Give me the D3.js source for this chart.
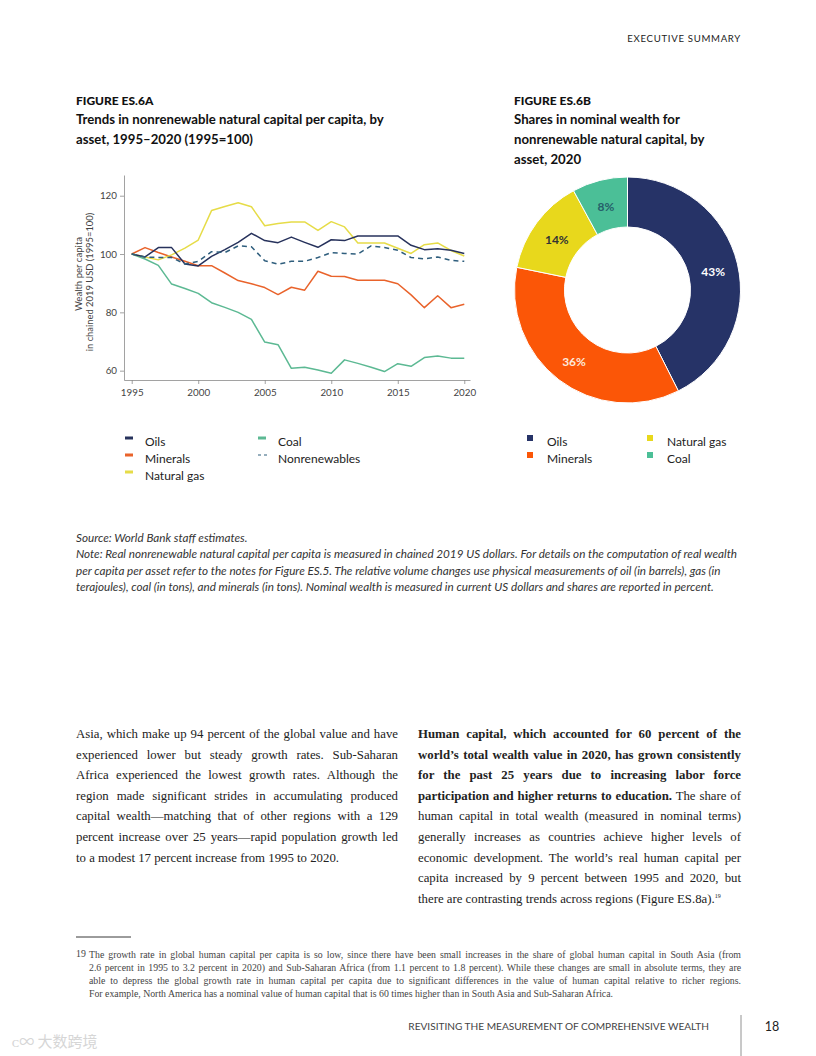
<!DOCTYPE html>
<html><head><meta charset="utf-8">
<script src="https://cdn.jsdelivr.net/npm/d3@7"></script>
<style>
html,body{margin:0;padding:0;background:#fff;}
body{width:816px;height:1056px;position:relative;overflow:hidden;font-family:Lato,"Open Sans",sans-serif;}
.abs{position:absolute;}
.body-line{white-space:nowrap;text-align:justify;text-align-last:justify;font-family:"Liberation Serif",serif;font-size:12.8px;color:#222;height:20.6px;line-height:20.6px;}
.body-line.last{text-align-last:left;}
.fn-line{white-space:nowrap;text-align:justify;text-align-last:justify;font-family:"Liberation Serif",serif;font-size:9.8px;color:#444;height:13px;line-height:13px;}
.fn-line.last{text-align-last:left;}
sup{line-height:0;vertical-align:0;position:relative;top:-5px;}
</style></head>
<body>
<svg id="chart" width="816" height="1056" class="abs" style="left:0;top:0"></svg>
<div id="text"></div>
<script>
// ---------- DATA ----------
const years = d3.range(1995, 2021);
const oils =          [100, 99.0, 102.2, 102.2, 96.6, 95.9, 99.2, 101.5, 104.0, 107.1, 104.6, 103.9, 105.8, 104.0, 102.3, 104.9, 104.6, 106.2, 106.2, 106.2, 106.2, 103.0, 101.5, 101.8, 101.3, 100.2];
const minerals =      [100, 102.2, 100.5, 99.0, 97.5, 96.0, 96.0, 93.5, 90.9, 89.8, 88.5, 86.1, 88.6, 87.6, 94.1, 92.4, 92.3, 91.0, 91.0, 91.0, 89.8, 86.0, 81.6, 85.7, 81.6, 82.8];
const naturalGas =    [100, 99.0, 98.0, 99.7, 102.0, 104.8, 114.9, 116.3, 117.6, 116.2, 109.7, 110.5, 111.0, 111.0, 108.1, 111.1, 109.3, 103.8, 103.8, 103.8, 102.0, 100.2, 103.2, 103.8, 101.2, 99.3];
const coal =          [100, 98.3, 96.1, 89.7, 88.2, 86.5, 83.3, 81.7, 80.0, 77.6, 69.8, 68.9, 60.8, 61.2, 60.2, 59.1, 63.7, 62.5, 61.2, 59.7, 62.4, 61.5, 64.5, 65.0, 64.3, 64.3];
const nonrenewables = [100, 99.0, 98.8, 98.8, 96.6, 97.5, 100.8, 100.5, 102.8, 102.5, 97.7, 96.5, 97.5, 97.5, 98.8, 100.5, 100.2, 100.0, 102.8, 102.2, 101.3, 98.8, 98.3, 99.0, 97.8, 97.5];
const yTicks = [60, 80, 100, 120];
const xTicks = [1995, 2000, 2005, 2010, 2015, 2020];

const donutLabels = ["Oils", "Minerals", "Natural gas", "Coal"];
const donutShares = [43, 36, 14, 8];

// ---------- STYLES ----------
const lineSeries = [
  {name:"Oils", values:oils, color:"#27325c", dash:null},
  {name:"Minerals", values:minerals, color:"#e9632b", dash:null},
  {name:"Natural gas", values:naturalGas, color:"#e6dc48", dash:null},
  {name:"Coal", values:coal, color:"#5cb993", dash:null},
  {name:"Nonrenewables", values:nonrenewables, color:"#2f5e7d", dash:"5,4"}
];
const donutColors = ["#263367", "#fb5607", "#e8d81c", "#4bbf97"];
const donutLabelColors = ["#ffffff", "#fde9dc", "#333333", "#26606a"];

const svg = d3.select("#chart");

// header
svg.append("text").attr("x",741).attr("y",42).attr("text-anchor","end")
  .attr("font-size",9.6).attr("letter-spacing",0.7).attr("fill","#222").text("EXECUTIVE SUMMARY");

// titles
function title(x, lines){
  svg.append("text").attr("x",x).attr("y",105).attr("font-weight",900).attr("font-size",12).attr("fill","#111").text(lines[0]);
  lines.slice(1).forEach((t,i)=>{
    svg.append("text").attr("x",x).attr("y",124+i*20).attr("font-weight",700).attr("font-size",13.2).attr("fill","#111").text(t);
  });
}
title(76, ["FIGURE ES.6A","Trends in nonrenewable natural capital per capita, by","asset, 1995–2020 (1995=100)"]);
title(514, ["FIGURE ES.6B","Shares in nominal wealth for","nonrenewable natural capital, by","asset, 2020"]);

// ---------- LINE CHART ----------
const x = d3.scaleLinear().domain([1994.42, 2020.43]).range([124, 470]);
const y = d3.scaleLinear().domain([56.8, 127.1]).range([380, 175]);

const gx = svg.append("g").attr("transform","translate(0,380)")
  .call(d3.axisBottom(x).tickValues(xTicks).tickFormat(d3.format("d")).tickSize(4).tickSizeOuter(0));
const gy = svg.append("g").attr("transform","translate(124,0)")
  .call(d3.axisLeft(y).tickValues(yTicks).tickSize(4).tickSizeOuter(0));
[gx,gy].forEach(g=>{
  g.select(".domain").attr("stroke","#8a8a8a").attr("stroke-width",0.8);
  g.selectAll(".tick line").attr("stroke","#8a8a8a").attr("stroke-width",0.8);
  g.selectAll(".tick text").attr("fill","#444").attr("font-size",9.8).attr("font-family","Lato");
});
gx.selectAll(".tick text").attr("dy","0.9em");

svg.append("text").attr("transform","translate(82,274) rotate(-90)").attr("text-anchor","middle")
  .attr("font-size",9.6).attr("fill","#444").text("Wealth per capita");
svg.append("text").attr("transform","translate(93,282) rotate(-90)").attr("text-anchor","middle")
  .attr("font-size",9.4).attr("fill","#444").text("in chained 2019 USD (1995=100)");

const line = d3.line().x((d,i)=>x(years[i])).y(d=>y(d));
const drawOrder = [3,1,2,0,4];
drawOrder.forEach(k=>{
  const s = lineSeries[k];
  svg.append("path").datum(s.values).attr("d",line).attr("fill","none")
    .attr("stroke",s.color).attr("stroke-width",1.5).attr("stroke-linejoin","round")
    .attr("stroke-dasharray",s.dash);
});

// line legend
const legPos = [[125,442],[125,459],[125,476],[258,442],[258,459]];
lineSeries.forEach((s,i)=>{
  const p = legPos[i];
  if(s.dash){
    svg.append("line").attr("x1",p[0]).attr("x2",p[0]+9).attr("y1",p[1]-4).attr("y2",p[1]-4)
      .attr("stroke",s.color).attr("stroke-width",1.2).attr("stroke-dasharray","3,3");
  } else {
    svg.append("rect").attr("x",p[0]).attr("y",p[1]-5.5).attr("width",8).attr("height",3).attr("fill",s.color);
  }
  svg.append("text").attr("x",p[0]+20).attr("y",p[1]+4).attr("font-size",12).attr("fill","#222").text(s.name);
});

// ---------- DONUT ----------
const cx = 627.5, cy = 290, rOut = 113, rIn = 63;
const pie = d3.pie().sort(null).value(d=>d);
const arc = d3.arc().innerRadius(rIn).outerRadius(rOut);
const arcs = pie(donutShares);
const dg = svg.append("g").attr("transform",`translate(${cx},${cy})`);
dg.selectAll("path").data(arcs).join("path").attr("d",arc)
  .attr("fill",(d,i)=>donutColors[i]).attr("stroke","#fff").attr("stroke-width",1);
dg.selectAll("text").data(arcs).join("text")
  .attr("transform",d=>{const c=arc.centroid(d);return `translate(${c[0]},${c[1]+2})`;})
  .attr("text-anchor","middle").attr("dy","0.35em").attr("font-size",12).attr("font-weight",700)
  .attr("fill",(d,i)=>donutLabelColors[i]).text(d=>d.data+"%");

// donut legend
const dLegPos = [[527,442],[527,459],[647,442],[647,459]];
donutLabels.forEach((t,i)=>{
  const p = dLegPos[i];
  svg.append("rect").attr("x",p[0]).attr("y",p[1]-7).attr("width",6).attr("height",6).attr("fill",donutColors[i]);
  svg.append("text").attr("x",p[0]+20).attr("y",p[1]+4).attr("font-size",12).attr("fill","#222").text(t);
});

// source & notes
const noteLines = [
  "Source: World Bank staff estimates.",
  "Note: Real nonrenewable natural capital per capita is measured in chained 2019 US dollars. For details on the computation of real wealth",
  "per capita per asset refer to the notes for Figure ES.5. The relative volume changes use physical measurements of oil (in barrels), gas (in",
  "terajoules), coal (in tons), and minerals (in tons). Nominal wealth is measured in current US dollars and shares are reported in percent."
];
noteLines.forEach((t,i)=>{
  svg.append("text").attr("x",76).attr("y",542+i*16.4).attr("font-size",11.7).attr("font-style","italic")
    .attr("fill","#333").text(t);
});

// footnote rule
svg.append("line").attr("x1",76).attr("x2",131).attr("y1",937).attr("y2",937).attr("stroke","#222").attr("stroke-width",0.9);

// footer
svg.append("text").attr("x",709).attr("y",1030).attr("text-anchor","end").attr("font-size",10.1)
  .attr("fill","#444").text("REVISITING THE MEASUREMENT OF COMPREHENSIVE WEALTH");
svg.append("line").attr("x1",741).attr("x2",741).attr("y1",1015).attr("y2",1056).attr("stroke","#777").attr("stroke-width",0.8);
svg.append("text").attr("x",772).attr("y",1031).attr("text-anchor","middle").attr("font-size",12.5)
  .attr("fill","#222").text("18");
svg.append("text").attr("x",12).attr("y",1047).attr("font-size",15).attr("fill","#d6d6d6")
  .attr("font-family","Noto Sans CJK SC").text("ᴄ∞ 大数跨境");

// ---------- BODY TEXT ----------
const leftCol = [
  "Asia, which make up 94 percent of the global value and have",
  "experienced lower but steady growth rates. Sub-Saharan",
  "Africa experienced the lowest growth rates. Although the",
  "region made significant strides in accumulating produced",
  "capital wealth—matching that of other regions with a 129",
  "percent increase over 25 years—rapid population growth led",
  "to a modest 17 percent increase from 1995 to 2020."
];
const rightCol = [
  "<b>Human capital, which accounted for 60 percent of the</b>",
  "<b>world’s total wealth value in 2020, has grown consistently</b>",
  "<b>for the past 25 years due to increasing labor force</b>",
  "<b>participation and higher returns to education.</b> The share of",
  "human capital in total wealth (measured in nominal terms)",
  "generally increases as countries achieve higher levels of",
  "economic development. The world’s real human capital per",
  "capita increased by 9 percent between 1995 and 2020, but",
  "there are contrasting trends across regions (Figure ES.8a).<sup style='font-size:6px'>19</sup>"
];
const footnote = [
  "The growth rate in global human capital per capita is so low, since there have been small increases in the share of global human capital in South Asia (from",
  "2.6 percent in 1995 to 3.2 percent in 2020) and Sub-Saharan Africa (from 1.1 percent to 1.8 percent). While these changes are small in absolute terms, they are",
  "able to depress the global growth rate in human capital per capita due to significant differences in the value of human capital relative to richer regions.",
  "For example, North America has a nominal value of human capital that is 60 times higher than in South Asia and Sub-Saharan Africa."
];
const tdiv = d3.select("#text");
function col(lines, left, top, width, cls, lh){
  lines.forEach((t,i)=>{
    tdiv.append("div").attr("class","abs "+cls+(i===lines.length-1?" last":""))
      .style("left",left+"px").style("top",(top+i*lh)+"px").style("width",width+"px").html(t);
  });
}
col(leftCol, 76, 724, 322, "body-line", 20.6);
col(rightCol, 418, 724, 323, "body-line", 20.6);
tdiv.append("div").attr("class","abs").style("left","76px").style("top","947.5px")
  .style("font-family","Liberation Serif").style("font-size","9.8px").style("color","#444").text("19");
col(footnote, 89, 947.5, 652, "fn-line", 13);
</script>
</body></html>
